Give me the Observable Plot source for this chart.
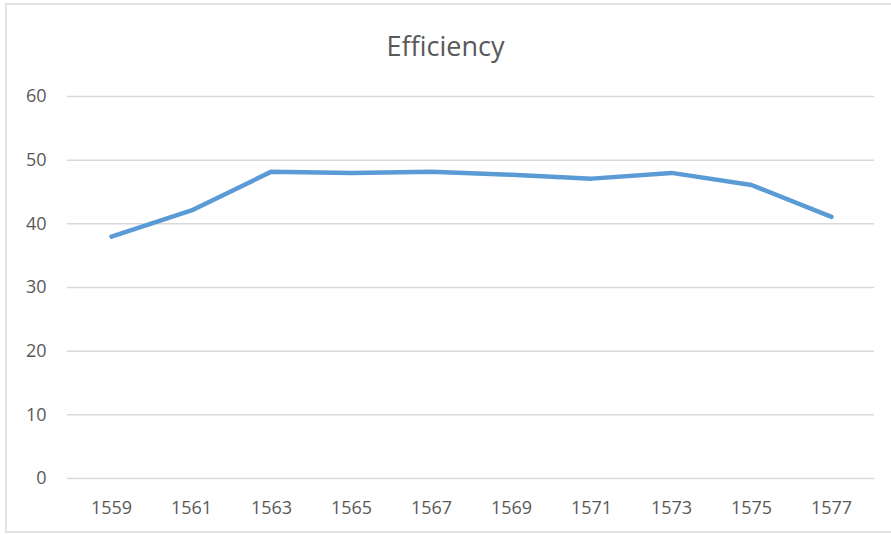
<!DOCTYPE html>
<html>
<head>
<meta charset="utf-8">
<script src="https://cdn.jsdelivr.net/npm/d3@7"></script>
<script src="https://cdn.jsdelivr.net/npm/@observablehq/plot@0.6"></script>
<style>
  html, body { margin: 0; padding: 0; background: #fff; }
  #wrap { position: relative; width: 891px; height: 534px; overflow: hidden; background: #fff; }
  #frame { position: absolute; left: 5px; top: 3px; width: 900px; height: 530px; border: 2px solid #e3e3e3; box-sizing: border-box; }
  #title { position: absolute; left: 0; top: 28px; width: 891px; text-align: center; font-family: "Open Sans", "Liberation Sans", sans-serif; font-size: 27px; color: #595959; line-height: 36px; }
  #chart { position: absolute; left: 0; top: 80px; }
</style>
</head>
<body>
<div id="wrap">
  <div id="frame"></div>
  <div id="title">Efficiency</div>
  <div id="chart"></div>
</div>
<script>
const years = ["1559", "1561", "1563", "1565", "1567", "1569", "1571", "1573", "1575", "1577"];
const efficiency = [38.0, 42.1, 48.2, 48.0, 48.2, 47.7, 47.1, 48.0, 46.1, 41.1];
const yTicks = [0, 10, 20, 30, 40, 50, 60];

const data = years.map((y, i) => ({year: y, value: efficiency[i]}));

const chart = Plot.plot({
  width: 891,
  height: 454,
  marginTop: 16,
  marginBottom: 56,
  marginLeft: 67,
  marginRight: 17,
  style: { fontFamily: "'Open Sans', 'Liberation Sans', sans-serif", fontSize: "18px", color: "#595959", background: "transparent" },
  x: { type: "point", domain: years, padding: 0.5, label: null },
  y: { domain: [0, 60], ticks: yTicks, label: null },
  marks: [
    Plot.ruleY(yTicks, { stroke: "#d9d9d9", strokeWidth: 1.5 }),
    Plot.axisY({ ticks: yTicks, tickSize: 0, tickPadding: 21, label: null, fill: "#595959" }),
    Plot.axisX({ tickSize: 0, tickPadding: 23, label: null, fill: "#595959" }),
    Plot.line(data, { x: "year", y: "value", stroke: "#5B9BD5", strokeWidth: 4.5, strokeLinejoin: "round", strokeLinecap: "round" })
  ]
});
document.getElementById("chart").appendChild(chart);
</script>
</body>
</html>
